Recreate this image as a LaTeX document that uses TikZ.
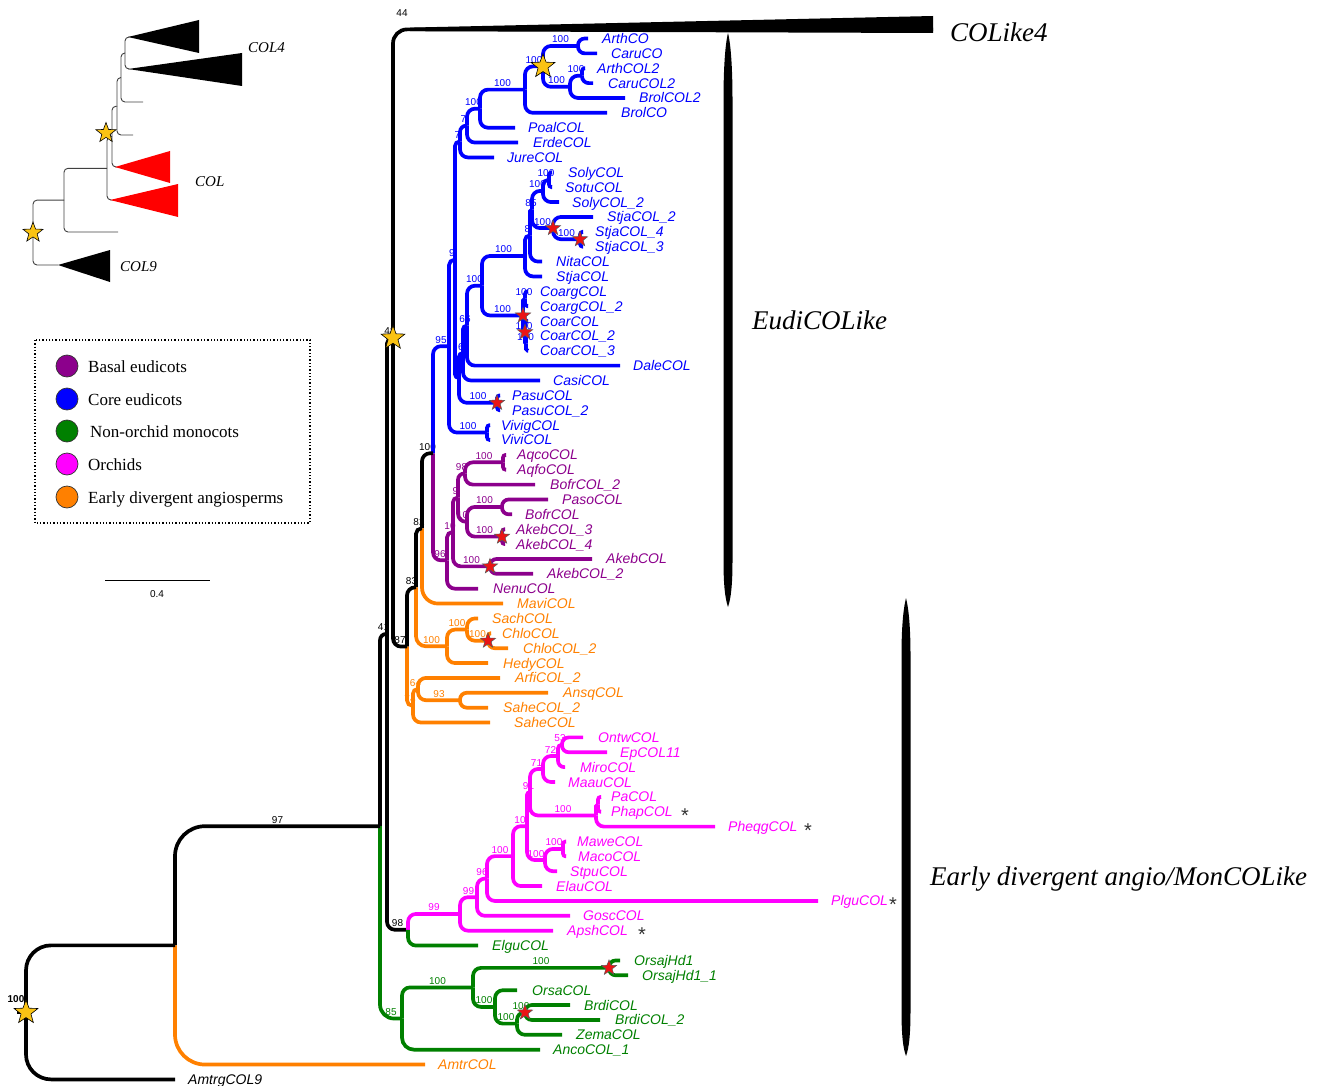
\documentclass[tikz,border=0pt]{standalone}
\usepackage{fontspec}
\setmainfont{Liberation Serif}
\setsansfont{Liberation Sans}
\usetikzlibrary{calc,shapes.geometric}
\pgfdeclarelayer{bg}\pgfdeclarelayer{fg}\pgfsetlayers{bg,main,fg}
\definecolor{cblue}{RGB}{0,0,255}
\definecolor{cpurp}{RGB}{140,0,140}
\definecolor{cgreen}{RGB}{0,128,0}
\definecolor{cmag}{RGB}{255,0,255}
\definecolor{corange}{RGB}{255,128,0}
\definecolor{cgold}{RGB}{250,195,20}
\definecolor{cred}{RGB}{235,20,20}
\newcommand\inode[4]{\coordinate (tmp) at ($(#3)!0.5!(#4)$);\coordinate (#1) at (#2,0 |- tmp);}
\newcommand\leaf[6]{\coordinate (#1) at (#3,{38.5+14.87*#2});
  \node[lf,text=#6,anchor=base west] (t#1) at (#4,{43.5+14.87*#2}) {#5};}
\newcommand\edge[5][8]{%
  \draw[br,#2] let \p1=(#3), \p2=(#4), \n1={max(0.05,min(#1,0.9*abs(\x2-\x1),0.9*abs(\y2-\y1)))} in [rounded corners=\n1] (#3) |- (#4);
  \begin{pgfonlayer}{bg}\path (#3 |- #4) -- (#4) node[bs,text=#2,midway,above=2.2pt]{#5};\end{pgfonlayer}}
\newcommand\iedge[2]{\draw[ibr] (#1) |- (#2);}
\begin{document}
\begin{tikzpicture}[x=1pt,y=-1pt,
  br/.style={line width=3.7pt},
  ibr/.style={line width=0.9pt,black!75,rounded corners=4pt},
  lf/.style={font=\sffamily\itshape\fontsize{14}{14}\selectfont,inner sep=0pt},
  bs/.style={font=\sffamily\fontsize{10}{10}\selectfont,inner sep=0.5pt},
  gstar/.style={star,star points=5,star point ratio=2.4,minimum size=25pt,inner sep=0pt,fill=cgold,draw=black,line width=0.6pt},
  rstar/.style={star,star points=5,star point ratio=2.4,minimum size=16pt,inner sep=0pt,fill=cred,draw=black!65,line width=0.5pt},
  big/.style={font=\itshape\fontsize{27}{27}\selectfont,inner sep=0pt},
  leg/.style={font=\fontsize{17}{17}\selectfont,inner sep=0pt,anchor=base west},
  dot/.style={circle,draw=black!80,line width=0.7pt,minimum size=22pt,inner sep=0pt},
  ast/.style={font=\sffamily\fontsize{20}{20}\selectfont,inner sep=0pt,anchor=base,text=black!80}]
\useasboundingbox (0,0) rectangle (1327,1086);

% ---------- leaves ----------
\leaf{L0}{0}{588}{602}{ArthCO}{cblue}
\leaf{L1}{1}{597}{611}{CaruCO}{cblue}
\leaf{L2}{2}{585}{597}{ArthCOL2}{cblue}
\leaf{L3}{3}{593}{608}{CaruCOL2}{cblue}
\leaf{L4}{4}{625}{639}{BrolCOL2}{cblue}
\leaf{L5}{5}{607}{621}{BrolCO}{cblue}
\leaf{L6}{6}{515}{528}{PoalCOL}{cblue}
\leaf{L7}{7}{518}{533}{ErdeCOL}{cblue}
\leaf{L8}{8}{494}{507}{JureCOL}{cblue}
\leaf{L9}{9}{552}{568}{SolyCOL}{cblue}
\leaf{L10}{10}{552}{565}{SotuCOL}{cblue}
\leaf{L11}{11}{559}{572}{SolyCOL\_2}{cblue}
\leaf{L12}{12}{593}{607}{StjaCOL\_2}{cblue}
\leaf{L13}{13}{583}{595}{StjaCOL\_4}{cblue}
\leaf{L14}{14}{583}{595}{StjaCOL\_3}{cblue}
\leaf{L15}{15}{542}{556}{NitaCOL}{cblue}
\leaf{L16}{16}{542}{556}{StjaCOL}{cblue}
\leaf{L17}{17}{528}{540}{CoargCOL}{cblue}
\leaf{L18}{18}{528}{540}{CoargCOL\_2}{cblue}
\leaf{L19}{19}{528}{540}{CoarCOL}{cblue}
\leaf{L20}{20}{528}{540}{CoarCOL\_2}{cblue}
\leaf{L21}{21}{528}{540}{CoarCOL\_3}{cblue}
\leaf{L22}{22}{620}{633}{DaleCOL}{cblue}
\leaf{L23}{23}{540}{553}{CasiCOL}{cblue}
\leaf{L24}{24}{500}{512}{PasuCOL}{cblue}
\leaf{L25}{25}{500}{512}{PasuCOL\_2}{cblue}
\leaf{L26}{26}{490}{501}{VivigCOL}{cblue}
\leaf{L27}{27}{490}{501}{ViviCOL}{cblue}
\leaf{L28}{28}{506}{517}{AqcoCOL}{cpurp}
\leaf{L29}{29}{506}{517}{AqfoCOL}{cpurp}
\leaf{L30}{30}{535}{550}{BofrCOL\_2}{cpurp}
\leaf{L31}{31}{548}{562}{PasoCOL}{cpurp}
\leaf{L32}{32}{512}{525}{BofrCOL}{cpurp}
\leaf{L33}{33}{505}{516}{AkebCOL\_3}{cpurp}
\leaf{L34}{34}{505}{516}{AkebCOL\_4}{cpurp}
\leaf{L35}{35}{592}{606}{AkebCOL}{cpurp}
\leaf{L36}{36}{533}{547}{AkebCOL\_2}{cpurp}
\leaf{L37}{37}{478}{493}{NenuCOL}{cpurp}
\leaf{L38}{38}{503}{517}{MaviCOL}{corange}
\leaf{L39}{39}{478}{492}{SachCOL}{corange}
\leaf{L40}{40}{491}{502}{ChloCOL}{corange}
\leaf{L41}{41}{508}{523}{ChloCOL\_2}{corange}
\leaf{L42}{42}{488}{503}{HedyCOL}{corange}
\leaf{L43}{43}{500}{515}{ArfiCOL\_2}{corange}
\leaf{L44}{44}{548}{563}{AnsqCOL}{corange}
\leaf{L45}{45}{488}{503}{SaheCOL\_2}{corange}
\leaf{L46}{46}{490}{514}{SaheCOL}{corange}
\leaf{L47}{47}{583}{598}{OntwCOL}{cmag}
\leaf{L48}{48}{607}{620}{EpCOL11}{cmag}
\leaf{L49}{49}{565}{580}{MiroCOL}{cmag}
\leaf{L50}{50}{555}{568}{MaauCOL}{cmag}
\leaf{L51}{51}{601}{611}{PaCOL}{cmag}
\leaf{L52}{52}{601}{611}{PhapCOL}{cmag}
\leaf{L53}{53}{715}{728}{PheqgCOL}{cmag}
\leaf{L54}{54}{566}{577}{MaweCOL}{cmag}
\leaf{L55}{55}{566}{578}{MacoCOL}{cmag}
\leaf{L56}{56}{557}{570}{StpuCOL}{cmag}
\leaf{L57}{57}{542}{556}{ElauCOL}{cmag}
\leaf{L58}{58}{818}{831}{PlguCOL}{cmag}
\leaf{L59}{59}{570}{583}{GoscCOL}{cmag}
\leaf{L60}{60}{553}{567}{ApshCOL}{cmag}
\leaf{L61}{61}{478}{492}{ElguCOL}{cgreen}
\leaf{L62}{62}{620}{634}{OrsajHd1}{cgreen}
\leaf{L63}{63}{628}{642}{OrsajHd1\_1}{cgreen}
\leaf{L64}{64}{517}{532}{OrsaCOL}{cgreen}
\leaf{L65}{65}{570}{584}{BrdiCOL}{cgreen}
\leaf{L66}{66}{600}{615}{BrdiCOL\_2}{cgreen}
\leaf{L67}{67}{562}{576}{ZemaCOL}{cgreen}
\leaf{L68}{68}{540}{553}{AncoCOL\_1}{cgreen}
\leaf{L69}{69}{425}{438}{AmtrCOL}{corange}
\leaf{L70}{70}{175}{188}{AmtrgCOL9}{black}
\coordinate (c4) at (933,29.4);

% ---------- internal nodes ----------
\inode{n_AC}{578}{L0}{L1}
\inode{n_AC2}{582}{L2}{L3}
\inode{n_COL2}{570}{n_AC2}{L4}
\inode{n_star}{543}{n_AC}{n_COL2}
\inode{n_Brol}{525}{n_star}{L5}
\inode{n_480}{480}{n_Brol}{L6}
\inode{n_467}{467}{n_480}{L7}
\inode{n_460}{460}{n_467}{L8}
\inode{n_SS}{549}{L9}{L10}
\inode{n_S3}{543}{n_SS}{L11}
\inode{n_St43}{580}{L13}{L14}
\inode{n_St3}{553}{L12}{n_St43}
\inode{n_b}{532}{n_S3}{n_St3}
\inode{n_c}{530}{n_b}{L15}
\inode{n_d}{525}{n_c}{L16}
\inode{n_Co_b}{525}{L17}{L18}
\inode{n_Co_d}{526}{L20}{L21}
\inode{n_Co_c}{525}{L19}{n_Co_d}
\inode{n_Co_a}{523}{n_Co_b}{n_Co_c}
\inode{n_e}{482}{n_d}{n_Co_a}
\inode{n_f}{467}{n_e}{L22}
\inode{n_g}{463}{n_f}{L23}
\inode{n_Pasu}{497}{L24}{L25}
\inode{n_h}{459}{n_g}{n_Pasu}
\inode{n_i}{455}{n_460}{n_h}
\inode{n_Vivi}{487}{L26}{L27}
\inode{n_blue}{449}{n_i}{n_Vivi}
\inode{n_Aq}{503}{L28}{L29}
\inode{n_p1}{465}{n_Aq}{L30}
\inode{n_Paso}{502}{L31}{L32}
\inode{n_Ak34}{502}{L33}{L34}
\inode{n_p2}{467}{n_Paso}{n_Ak34}
\inode{n_p3}{458}{n_p1}{n_p2}
\inode{n_Ak12}{490}{L35}{L36}
\inode{n_p4}{453}{n_p3}{n_Ak12}
\inode{n_purp}{447}{n_p4}{L37}
\inode{n_eudi}{433}{n_blue}{n_purp}
\inode{n_k}{422}{n_eudi}{L38}
\inode{n_Chlo}{488}{L40}{L41}
\inode{n_Sach}{467}{L39}{n_Chlo}
\inode{n_chl}{447}{n_Sach}{L42}
\inode{n_l}{416}{n_k}{n_chl}
\inode{n_Ansq}{460}{L44}{L45}
\inode{n_Arfi}{418}{L43}{n_Ansq}
\inode{n_Sahe}{413}{n_Arfi}{L46}
\inode{n_m}{407}{n_l}{n_Sahe}
\inode{n_48}{393}{c4}{n_m}
\inode{n_Ontw}{562}{L47}{L48}
\inode{n_Miro}{558}{n_Ontw}{L49}
\inode{n_Maau}{543}{n_Miro}{L50}
\inode{n_Pa}{598}{L51}{L52}
\inode{n_Pheq}{596}{n_Pa}{L53}
\inode{n_91}{530}{n_Maau}{n_Pheq}
\inode{n_Mawe}{563}{L54}{L55}
\inode{n_Stpu}{545}{n_Mawe}{L56}
\inode{n_101}{527}{n_91}{n_Stpu}
\inode{n_100b}{513}{n_101}{L57}
\inode{n_96}{487}{n_100b}{L58}
\inode{n_99a}{477}{n_96}{L59}
\inode{n_orch}{460}{n_99a}{L60}
\inode{n_98}{408}{n_orch}{L61}
\inode{n_up}{387}{n_48}{n_98}
\inode{n_Orsaj}{609}{L62}{L63}
\inode{n_Brdi}{525}{L65}{L66}
\inode{n_Zema}{517}{n_Brdi}{L67}
\inode{n_Orsa}{495}{L64}{n_Zema}
\inode{n_Ors2}{473}{n_Orsaj}{n_Orsa}
\inode{n_green}{402}{n_Ors2}{L68}
\inode{n_3}{380}{n_up}{n_green}
\inode{n_2}{175}{n_3}{L69}
\inode{n_root}{26}{n_2}{L70}

% ---------- edges: blue ----------
\edge{cblue}{n_AC}{L0}{}\edge{cblue}{n_AC}{L1}{}
\edge{cblue}{n_AC2}{L2}{}\edge{cblue}{n_AC2}{L3}{}
\edge{cblue}{n_COL2}{n_AC2}{100}\edge{cblue}{n_COL2}{L4}{}
\edge{cblue}{n_star}{n_AC}{100}\edge{cblue}{n_star}{n_COL2}{100}
\edge{cblue}{n_Brol}{n_star}{100}\edge{cblue}{n_Brol}{L5}{}
\edge{cblue}{n_480}{n_Brol}{100}\edge{cblue}{n_480}{L6}{}
\edge{cblue}{n_467}{n_480}{100}\edge{cblue}{n_467}{L7}{}
\edge{cblue}{n_460}{n_467}{7}\edge{cblue}{n_460}{L8}{}
\edge{cblue}{n_i}{n_460}{7}\edge{cblue}{n_i}{n_h}{}
\edge{cblue}{n_SS}{L9}{}\edge{cblue}{n_SS}{L10}{}
\edge{cblue}{n_S3}{n_SS}{100}\edge{cblue}{n_S3}{L11}{}
\edge{cblue}{n_St43}{L13}{}\edge{cblue}{n_St43}{L14}{}
\edge{cblue}{n_St3}{L12}{}\edge{cblue}{n_St3}{n_St43}{100}
\edge{cblue}{n_b}{n_S3}{100}\edge{cblue}{n_b}{n_St3}{100}
\edge{cblue}{n_c}{n_b}{85}\edge{cblue}{n_c}{L15}{}
\edge{cblue}{n_d}{n_c}{8}\edge{cblue}{n_d}{L16}{}
\edge{cblue}{n_Co_b}{L17}{}\edge{cblue}{n_Co_b}{L18}{}
\edge{cblue}{n_Co_d}{L20}{}\edge{cblue}{n_Co_d}{L21}{}
\edge{cblue}{n_Co_c}{L19}{}\edge{cblue}{n_Co_c}{n_Co_d}{100}
\edge{cblue}{n_Co_a}{n_Co_b}{100}\edge{cblue}{n_Co_a}{n_Co_c}{100}
\edge{cblue}{n_e}{n_d}{100}\edge{cblue}{n_e}{n_Co_a}{100}
\edge{cblue}{n_f}{n_e}{100}\edge{cblue}{n_f}{L22}{}
\edge{cblue}{n_g}{n_f}{66}\edge{cblue}{n_g}{L23}{}
\edge{cblue}{n_Pasu}{L24}{}\edge{cblue}{n_Pasu}{L25}{}
\edge{cblue}{n_h}{n_g}{6}\edge{cblue}{n_h}{n_Pasu}{100}
\edge{cblue}{n_Vivi}{L26}{}\edge{cblue}{n_Vivi}{L27}{}
\edge{cblue}{n_blue}{n_i}{9}\edge{cblue}{n_blue}{n_Vivi}{100}
\edge{cblue}{n_eudi}{n_blue}{95}
% ---------- purple ----------
\edge{cpurp}{n_Aq}{L28}{}\edge{cpurp}{n_Aq}{L29}{}
\edge{cpurp}{n_p1}{n_Aq}{100}\edge{cpurp}{n_p1}{L30}{}
\edge{cpurp}{n_Paso}{L31}{}\edge{cpurp}{n_Paso}{L32}{}
\edge{cpurp}{n_Ak34}{L33}{}\edge{cpurp}{n_Ak34}{L34}{}
\edge{cpurp}{n_p2}{n_Paso}{100}\edge{cpurp}{n_p2}{n_Ak34}{100}
\edge{cpurp}{n_p3}{n_p1}{98}\edge{cpurp}{n_p3}{n_p2}{10}
\edge{cpurp}{n_Ak12}{L35}{}\edge{cpurp}{n_Ak12}{L36}{}
\edge{cpurp}{n_p4}{n_p3}{9}\edge{cpurp}{n_p4}{n_Ak12}{100}
\edge{cpurp}{n_purp}{n_p4}{10}\edge{cpurp}{n_purp}{L37}{}
\edge{cpurp}{n_eudi}{n_purp}{96}
% ---------- orange / backbone ----------
\edge{black}{n_k}{n_eudi}{100}\edge[16]{corange}{n_k}{L38}{}
\edge{corange}{n_Chlo}{L40}{}\edge{corange}{n_Chlo}{L41}{}
\edge{corange}{n_Sach}{L39}{}\edge{corange}{n_Sach}{n_Chlo}{100}
\edge{corange}{n_chl}{n_Sach}{100}\edge{corange}{n_chl}{L42}{}
\edge{black}{n_l}{n_k}{82}\edge[10]{corange}{n_l}{n_chl}{100}
\edge{corange}{n_Ansq}{L44}{}\edge{corange}{n_Ansq}{L45}{}
\edge{corange}{n_Arfi}{L43}{}\edge{corange}{n_Arfi}{n_Ansq}{93}
\edge{corange}{n_Sahe}{n_Arfi}{64}\edge{corange}{n_Sahe}{L46}{}
\edge{black}{n_m}{n_l}{83}\edge{corange}{n_m}{n_Sahe}{74}
\edge[14]{black}{n_48}{c4}{}\edge{black}{n_48}{n_m}{87}
\edge{black}{n_up}{n_48}{48}\edge{black}{n_up}{n_98}{98}
% ---------- magenta ----------
\edge{cmag}{n_Ontw}{L47}{}\edge{cmag}{n_Ontw}{L48}{}
\edge{cmag}{n_Miro}{n_Ontw}{53}\edge{cmag}{n_Miro}{L49}{}
\edge{cmag}{n_Maau}{n_Miro}{72}\edge{cmag}{n_Maau}{L50}{}
\edge{cmag}{n_Pa}{L51}{}\edge{cmag}{n_Pa}{L52}{}
\edge{cmag}{n_Pheq}{n_Pa}{}\edge{cmag}{n_Pheq}{L53}{}
\edge{cmag}{n_91}{n_Maau}{71}\edge{cmag}{n_91}{n_Pheq}{100}
\edge{cmag}{n_Mawe}{L54}{}\edge{cmag}{n_Mawe}{L55}{}
\edge{cmag}{n_Stpu}{n_Mawe}{100}\edge{cmag}{n_Stpu}{L56}{}
\edge{cmag}{n_101}{n_91}{91}\edge{cmag}{n_101}{n_Stpu}{100}
\edge{cmag}{n_100b}{n_101}{10}\edge{cmag}{n_100b}{L57}{}
\edge{cmag}{n_96}{n_100b}{100}\edge{cmag}{n_96}{L58}{}
\edge{cmag}{n_99a}{n_96}{96}\edge{cmag}{n_99a}{L59}{}
\edge{cmag}{n_orch}{n_99a}{99}\edge{cmag}{n_orch}{L60}{}
\edge{cmag}{n_98}{n_orch}{99}\edge{cgreen}{n_98}{L61}{}
% ---------- green ----------
\edge{cgreen}{n_Orsaj}{L62}{}\edge{cgreen}{n_Orsaj}{L63}{}
\edge{cgreen}{n_Brdi}{L65}{}\edge{cgreen}{n_Brdi}{L66}{}
\edge{cgreen}{n_Zema}{n_Brdi}{100}\edge{cgreen}{n_Zema}{L67}{}
\edge{cgreen}{n_Orsa}{L64}{}\edge{cgreen}{n_Orsa}{n_Zema}{100}
\edge{cgreen}{n_Ors2}{n_Orsaj}{100}\edge{cgreen}{n_Ors2}{n_Orsa}{100}
\edge{cgreen}{n_green}{n_Ors2}{100}\edge[12]{cgreen}{n_green}{L68}{}
\edge{black}{n_3}{n_up}{41}\edge[14]{cgreen}{n_3}{n_green}{85}
\edge[30]{black}{n_2}{n_3}{97}\edge[30]{corange}{n_2}{L69}{}
\edge[25]{black}{n_root}{n_2}{}\edge[25]{black}{n_root}{L70}{}
\draw[br] (n_root) -- ++(-9,0);
\node[bs,font=\sffamily\bfseries\fontsize{10}{10}\selectfont] (rootlbl) at (16,999) {100};
\node[bs] (lbl44) at (402,13) {44};

% COLike4 wedge
\fill (410,27.6) -- (933,16) -- (933,33) -- (410,31.2) -- cycle;

% clade bars
\fill (728,33) .. controls (731,45) and (732.5,70) .. (732.5,100) -- (732.5,560) .. controls (732.5,585) and (731,598) .. (728,607) .. controls (725,598) and (723.5,585) .. (723.5,560) -- (723.5,100) .. controls (723.5,70) and (725,45) .. (728,33) -- cycle;
\fill (906,598) .. controls (909,610) and (910.5,630) .. (910.5,655) -- (910.5,1010) .. controls (910.5,1035) and (909,1048) .. (906,1056) .. controls (903,1048) and (901.5,1035) .. (901.5,1010) -- (901.5,655) .. controls (901.5,630) and (903,610) .. (906,598) -- cycle;
\node[big,anchor=base west] (bCOL4) at (950,42) {COLike4};
\node[big,anchor=base west] (bEudi) at (752,329) {EudiCOLike};
\node[big,anchor=base west] (bEarly) at (930,885) {Early divergent angio/MonCOLike};

% asterisks
\node[ast] (a1) at (685,822) {*};
\node[ast] (a2) at (808,837) {*};
\node[ast] (a3) at (893,911.5) {*};
\node[ast] (a4) at (642,941) {*};

% ---------- inset ----------
\coordinate (ia1) at (128,37); \coordinate (ia2) at (128,69);
\coordinate (il1) at (143,102); \coordinate (il2) at (133,135);
\coordinate (ir1) at (115,167); \coordinate (ir2) at (110,200);
\coordinate (il3) at (118,232); \coordinate (ib) at (58,265);
\inode{in1}{125}{ia1}{ia2}
\inode{in2}{121}{in1}{il1}
\inode{in3}{117}{in2}{il2}
\inode{in4}{112}{in3}{ir1}
\inode{in5}{107}{in4}{ir2}
\inode{in6}{64}{in5}{il3}
\inode{in7}{33}{in6}{ib}
\iedge{in1}{ia1}\iedge{in1}{ia2}
\iedge{in2}{in1}\iedge{in2}{il1}
\iedge{in3}{in2}\iedge{in3}{il2}
\iedge{in4}{in3}\iedge{in4}{ir1}
\iedge{in5}{in4}\iedge{in5}{ir2}
\iedge{in6}{in5}\iedge{in6}{il3}
\iedge{in7}{in6}\iedge{in7}{ib}
\fill (ia1) -- (199,20) -- (199,53) -- cycle;
\fill (ia2) -- (242,53) -- (242,86) -- cycle;
\fill[red] (ir1) -- (170,151) -- (170,183) -- cycle;
\fill[red] (ir2) -- (178,184) -- (178,217) -- cycle;
\fill (ib) -- (110,250) -- (110,282) -- cycle;
\node[font=\itshape\fontsize{15}{15}\selectfont,inner sep=0pt,anchor=base west] (iCOL4) at (248,53) {COL4};
\node[font=\itshape\fontsize{15}{15}\selectfont,inner sep=0pt,anchor=base west] (iCOL) at (195,186) {COL};
\node[font=\itshape\fontsize{15}{15}\selectfont,inner sep=0pt,anchor=base west] (iCOL9) at (120,271) {COL9};

% ---------- legend ----------
\draw[dotted,line width=1.3pt] (35,340) rectangle (310,523);
\node[dot,fill=cpurp] (g1) at (67,366) {}; \node[leg] (gt1) at (88,372) {Basal eudicots};
\node[dot,fill=cblue] (g2) at (67,399) {}; \node[leg] (gt2) at (88,405) {Core eudicots};
\node[dot,fill=cgreen] (g3) at (67,431) {}; \node[leg] (gt3) at (90,437) {Non-orchid monocots};
\node[dot,fill=cmag] (g4) at (67,464) {}; \node[leg] (gt4) at (88,470) {Orchids};
\node[dot,fill=corange] (g5) at (67,497) {}; \node[leg] (gt5) at (88,503) {Early divergent angiosperms};
% scale bar
\coordinate (sb1) at (105,580); \coordinate (sb2) at (210,580);
\draw[line width=1pt] (sb1) -- (sb2);
\node[font=\sffamily\fontsize{10}{10}\selectfont] (sbl) at (157,594) {0.4};

% ---------- stars ----------
\begin{pgfonlayer}{fg}
\node[gstar] (s1) at (n_star) {};
\node[gstar] (s2) at (n_48) {};
\node[gstar] (s3) at (n_root) {};
\node[gstar,minimum size=21pt] (s4) at (106,133) {};
\node[gstar,minimum size=21pt] (s5) at (in7) {};
\foreach \n in {n_St3,n_St43,n_Co_a,n_Co_c,n_Pasu,n_Ak34,n_Ak12,n_Chlo,n_Orsaj,n_Brdi}
  \node[rstar] at (\n) {};
\end{pgfonlayer}
\end{tikzpicture}
\end{document}
